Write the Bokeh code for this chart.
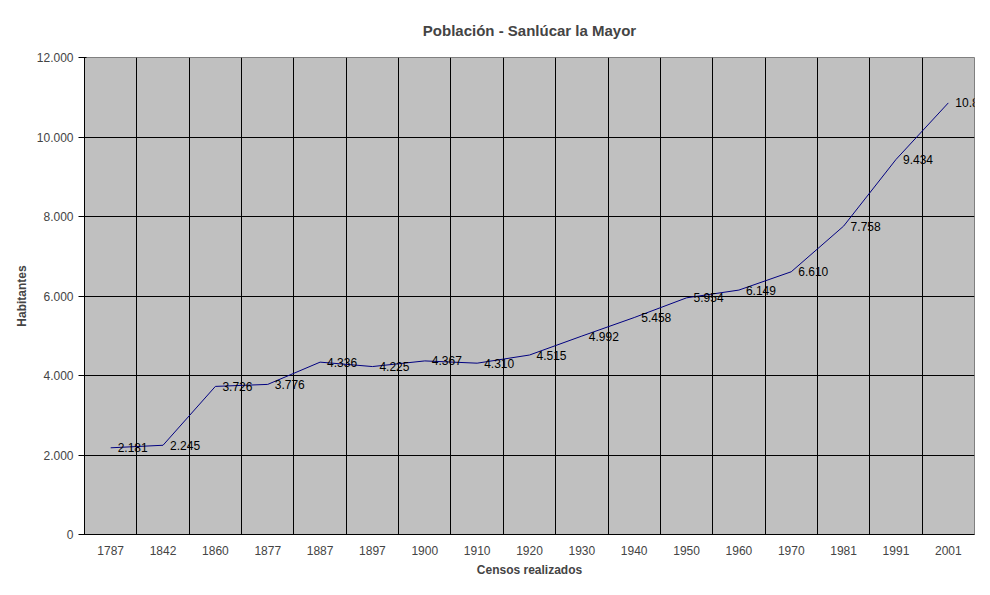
from bokeh.plotting import figure
from bokeh.models import FixedTicker, ColumnDataSource
from bokeh.core.properties import value
from bokeh.embed import file_html
from bokeh.resources import INLINE

years = ["1787","1842","1860","1877","1887","1897","1900","1910","1920","1930","1940","1950","1960","1970","1981","1991","2001"]
values = [2181,2245,3726,3776,4336,4225,4367,4310,4515,4992,5458,5954,6149,6610,7758,9434,10858]
yticks = [0,2000,4000,6000,8000,10000,12000]

def fmt(v):
    return f"{v:,}".replace(",", ".")

xs = [i + 0.5 for i in range(len(years))]
src = ColumnDataSource(dict(x=xs, y=values, lab=[fmt(v) for v in values]))

F = "Liberation Sans"
p = figure(width=980, height=579, x_range=(0, len(years)), y_range=(0, 12000),
           output_backend="svg", toolbar_location=None,
           title="Población - Sanlúcar la Mayor",
           min_border_left=84, min_border_right=6, min_border_top=10, min_border_bottom=10)
p.title.align = "center"
p.title.text_font = F
p.title.text_font_size = "15px"
p.title.text_font_style = "bold"
p.title.standoff = 38
p.background_fill_color = "#C0C0C0"
p.outline_line_color = "#808080"

p.xaxis.ticker = FixedTicker(ticks=xs)
p.xaxis.major_label_overrides = {x: y for x, y in zip(xs, years)}
p.yaxis.ticker = FixedTicker(ticks=yticks)
p.yaxis.major_label_overrides = {v: fmt(v) for v in yticks}
p.xgrid.ticker = FixedTicker(ticks=list(range(len(years) + 1)))
for g in (p.xgrid, p.ygrid):
    g.grid_line_color = "black"
    g.grid_line_width = 1
for ax in (p.xaxis, p.yaxis):
    ax.major_label_text_font = F
    ax.major_label_text_font_size = "12px"
    ax.axis_label_text_font = F
    ax.axis_label_text_font_size = "12px"
    ax.axis_label_text_font_style = "bold"
    ax.minor_tick_line_color = None
    ax.axis_line_color = "black"
p.xaxis.axis_label = "Censos realizados"
p.yaxis.axis_label = "Habitantes"
p.xaxis.major_tick_line_color = None

p.line("x", "y", source=src, line_color="#000080", line_width=1)
p.text("x", "y", text="lab", source=src, x_offset=7, text_baseline="middle",
       text_font=value(F), text_font_size="12px", text_color="black")

open("out.html", "w").write(file_html(p, INLINE))
